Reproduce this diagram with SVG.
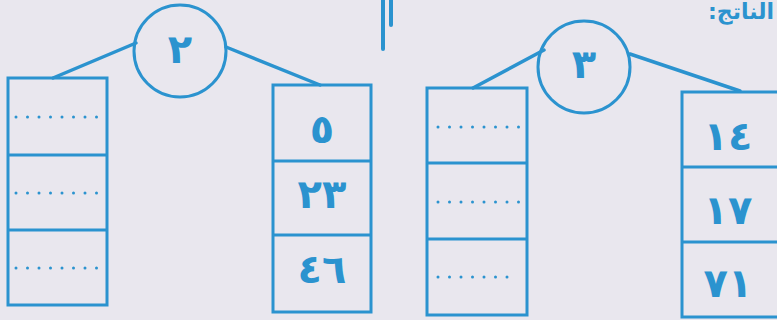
<svg xmlns="http://www.w3.org/2000/svg" width="777" height="320" viewBox="0 0 777 320">
<style>
.bg{fill:#e9e7ee}
.ln{stroke:#2b93cf;stroke-width:3.5;fill:none;stroke-linecap:round}
.bx{stroke:#2b93cf;stroke-width:3;fill:none}
.dv{stroke:#2b93cf;stroke-width:3}
.dot{stroke:#2b93cf;stroke-width:3;stroke-dasharray:0 11.5;stroke-linecap:round}
.num{fill:#2b93cf;font-family:"DejaVu Sans",sans-serif;font-weight:bold;font-size:40px;text-anchor:middle}
.hd{fill:#2b93cf;font-family:"DejaVu Sans",sans-serif;font-weight:bold;font-size:22px}
</style>
<rect class="bg" width="777" height="320"/>
<g id="marks">
<line class="ln" x1="383" y1="0" x2="383" y2="49" style="stroke-width:4"/>
<line class="ln" x1="391" y1="0" x2="391" y2="25" style="stroke-width:4"/>
<text class="hd" x="774" y="19" direction="rtl" text-anchor="start">الناتج:</text>
</g>
<g id="connectors">
<line class="ln" x1="136" y1="43" x2="53" y2="78"/>
<line class="ln" x1="226" y1="47" x2="320" y2="85"/>
<line class="ln" x1="544" y1="50" x2="473" y2="88"/>
<line class="ln" x1="630" y1="54" x2="740" y2="91"/>
</g>
<g id="circle2">
<circle class="bx" cx="180" cy="51" r="46"/>
<text class="num" x="180" y="63">٢</text>
</g>
<g id="box-left1">
<rect class="bx" x="8" y="78" width="99" height="227"/>
<line class="dv" x1="8" y1="155" x2="107" y2="155"/>
<line class="dv" x1="8" y1="230" x2="107" y2="230"/>
<line class="dot" x1="16" y1="117" x2="98" y2="117"/>
<line class="dot" x1="16" y1="193" x2="98" y2="193"/>
<line class="dot" x1="16" y1="268" x2="98" y2="268"/>
</g>
<g id="box-right1">
<rect class="bx" x="273" y="85" width="98" height="227"/>
<line class="dv" x1="273" y1="161" x2="371" y2="161"/>
<line class="dv" x1="273" y1="235" x2="371" y2="235"/>
<text class="num" x="322" y="143">٥</text>
<text class="num" x="322" y="208">٢٣</text>
<text class="num" x="322" y="283">٤٦</text>
</g>
<g id="circle3">
<circle class="bx" cx="584" cy="67" r="46"/>
<text class="num" x="584" y="78">٣</text>
</g>
<g id="box-left2">
<rect class="bx" x="427" y="88" width="100" height="227"/>
<line class="dv" x1="427" y1="163" x2="527" y2="163"/>
<line class="dv" x1="427" y1="239" x2="527" y2="239"/>
<line class="dot" x1="438" y1="127" x2="519" y2="127"/>
<line class="dot" x1="438" y1="202" x2="519" y2="202"/>
<line class="dot" x1="438" y1="277" x2="509" y2="277"/>
</g>
<g id="box-right2">
<rect class="bx" x="682" y="92" width="100" height="225"/>
<line class="dv" x1="682" y1="167" x2="777" y2="167"/>
<line class="dv" x1="682" y1="242" x2="777" y2="242"/>
<text class="num" x="728" y="150">١٤</text>
<text class="num" x="728" y="224">١٧</text>
<text class="num" x="728" y="297">٧١</text>
</g>
</svg>
